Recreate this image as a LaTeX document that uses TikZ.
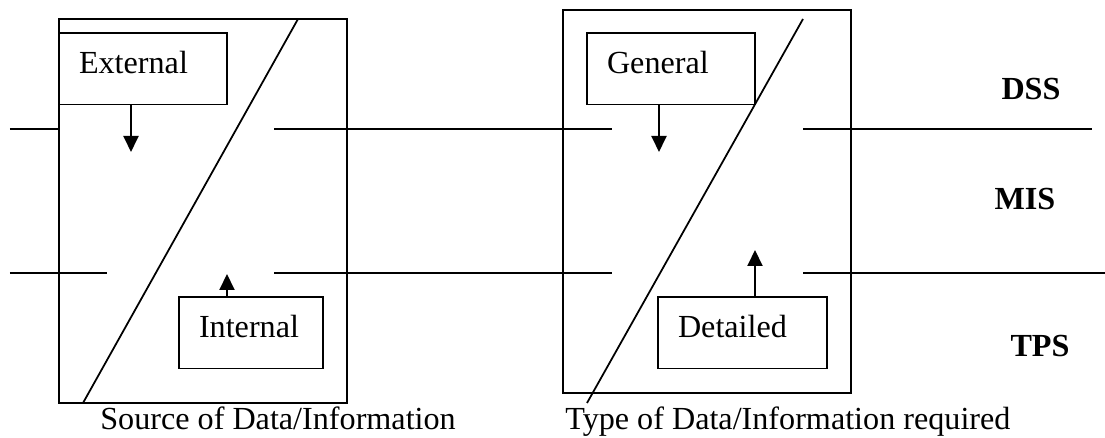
\documentclass[tikz,border=0pt]{standalone}
\usepackage{fontspec}
\setmainfont{Liberation Serif}
\usepackage{tikz}
\usetikzlibrary{arrows.meta}
\tikzset{
frame/.style = {draw=black, line width=1.1pt, minimum width=5.76cm,
                minimum height=#1, inner sep=0pt, outer sep=0pt},
frame/.default = 7.68cm,
kind/.style = {draw=black, line width=1.1pt, anchor=north west, align=left,
               inner xsep=0.4cm, inner ysep=0.38cm, outer sep=0pt,
               text height=0.43cm, text depth=0.24cm, text width=#1},
kind/.default = 2.56cm, % width of the text inside the box
layer/.style = {line width=0.9pt},
flow/.style = {line width=1.1pt, -{Triangle[length=0.32cm, width=0.3cm]}}
}
\begin{document}
\begin{tikzpicture}[font=\fontsize{18.3}{21}\selectfont]
\useasboundingbox (0,0) rectangle (22.1,8.76);

\node[frame] (source) at (4.06,4.54) {};
\node[frame=7.66cm] (type) at (14.14,4.73) {};

\draw [line width=1pt] (1.66,0.70) -- (5.96,8.38);
\draw [line width=1pt] (11.74,0.70) -- (16.06,8.38);

\node[kind] (external) at (1.18,8.10) {External};
\node[kind=2.08cm] (internal) at (3.58,2.82) {Internal};
\node[kind] (general) at (11.74,8.10) {General};
\node[kind=2.58cm] (detailed) at (13.16,2.82) {Detailed};

\coordinate (extTip) at (2.62,5.72);
\coordinate (intTip) at (4.54,3.28);
\coordinate (genTip) at (13.18,5.72);
\coordinate (detTip) at (15.10,3.76);

\draw [flow] (extTip |- external.south) -- (extTip);
\draw [flow] (intTip |- internal.north) -- (intTip);
\draw [flow] (genTip |- general.south) -- (genTip);
\draw [flow] (detTip |- detailed.north) -- (detTip);

% level lines
\draw [layer] (0.20,6.18) -- (source.west |- 0,6.18);
\draw [layer] (5.48,6.18) -- (12.24,6.18);
\draw [layer] (16.06,6.18) -- (21.84,6.18);
\draw [layer] (0.20,3.30) -- (2.14,3.30);
\draw [layer] (5.48,3.30) -- (12.24,3.30);
\draw [layer] (16.06,3.30) -- (22.10,3.30);

\node[anchor=base] (dss) at (20.62,6.76) {\textbf{DSS}};
\node[anchor=base] (mis) at (20.50,4.56) {\textbf{MIS}};
\node[anchor=base] (tps) at (20.80,1.62) {\textbf{TPS}};

\node[anchor=base west, inner sep=0pt] (srcText) at (2.00,0.16) {Source of Data/Information};
\node[anchor=base west, inner sep=0pt] (typeText) at (11.30,0.16) {Type of Data/Information required};
\end{tikzpicture}
\end{document}
